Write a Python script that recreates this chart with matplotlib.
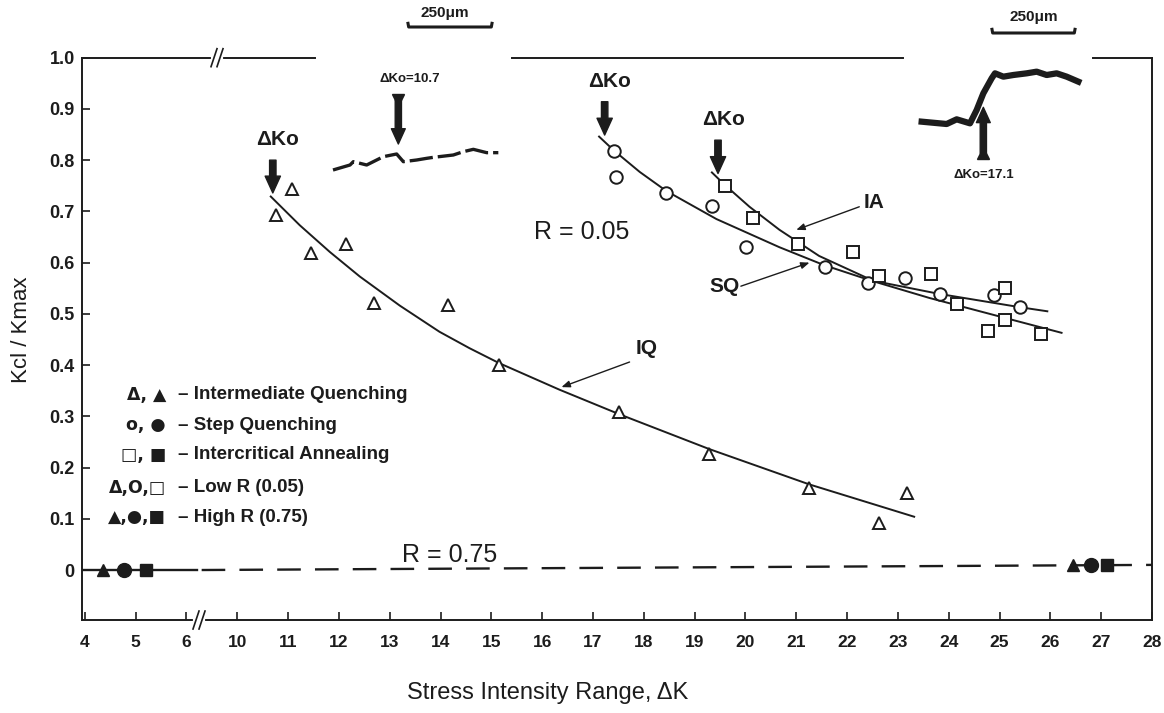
import numpy as np
import matplotlib
matplotlib.use("Agg")
import matplotlib.pyplot as plt

# ---- data (Kcl/Kmax vs stress intensity range) ----
# intermediate quenching, R = 0.05 (open triangles)
iq_x = [10.76, 11.08, 11.46, 12.14, 12.69, 14.15, 15.15, 17.51, 19.29, 21.26, 22.63, 23.18]
iq_y = [0.693, 0.743, 0.619, 0.636, 0.522, 0.517, 0.401, 0.309, 0.226, 0.160, 0.091, 0.151]
iq_fit_x = [10.66, 11.23, 11.82, 12.41, 13.20, 13.98, 14.57, 15.15, 16.34, 17.52, 19.29, 21.26, 23.32]
iq_fit_y = [0.729, 0.673, 0.621, 0.573, 0.516, 0.465, 0.433, 0.404, 0.352, 0.304, 0.236, 0.167, 0.104]

# step quenching, R = 0.05 (open circles)
sq_x = [17.41, 17.46, 18.44, 19.34, 20.01, 21.57, 22.42, 23.14, 23.83, 24.89, 25.40]
sq_y = [0.818, 0.767, 0.735, 0.711, 0.631, 0.591, 0.560, 0.569, 0.538, 0.537, 0.513]
sq_fit_x = [17.12, 17.41, 17.92, 18.44, 19.43, 20.67, 21.55, 22.44, 23.81, 25.40, 25.94]
sq_fit_y = [0.846, 0.819, 0.777, 0.740, 0.685, 0.630, 0.595, 0.566, 0.539, 0.513, 0.505]

# intercritical annealing, R = 0.05 (open squares)
ia_x = [19.59, 20.14, 21.03, 22.12, 22.63, 23.66, 24.17, 25.11, 25.11, 24.78, 25.81]
ia_y = [0.750, 0.688, 0.636, 0.621, 0.573, 0.578, 0.519, 0.550, 0.488, 0.467, 0.460]
ia_fit_x = [19.34, 19.59, 20.08, 20.67, 21.45, 22.57, 23.62, 25.11, 26.22]
ia_fit_y = [0.776, 0.752, 0.709, 0.664, 0.613, 0.562, 0.531, 0.492, 0.463]

# R = 0.75: closure level stays at zero (filled symbols)
hi_x = [4.36, 4.77, 5.20, 26.45, 26.79, 27.12]
hi_y = [0.0, 0.0, 0.0, 0.01, 0.01, 0.01]
hi_mark = ["^", "o", "s", "^", "o", "s"]
hi_line_x = [6.3, 28.0]
hi_line_y = [0.0, 0.01]

# threshold markers (dK_o) for each curve
dko_x = [10.7, 17.23, 19.46]
dko_top = [0.800, 0.914, 0.839]
dko_tip = [0.736, 0.849, 0.774]

xtick_vals = [4, 5, 6, 10, 11, 12, 13, 14, 15, 16, 17, 18, 19, 20, 21, 22, 23, 24, 25, 26, 27, 28]
ytick_vals = [0, 0.1, 0.2, 0.3, 0.4, 0.5, 0.6, 0.7, 0.8, 0.9, 1.0]
ytick_labels = ["0", "0.1", "0.2", "0.3", "0.4", "0.5", "0.6", "0.7", "0.8", "0.9", "1.0"]

legend_sym = ["Δ, ▲", "o, ●", "□, ■", "Δ,O,□", "▲,●,■"]
legend_txt = ["Intermediate Quenching", "Step Quenching", "Intercritical Annealing",
              "Low R (0.05)", "High R (0.75)"]

# crack profile micrographs (micrometres, 250 um scale bars)
crack_a_x = [39, 90, 100, 140, 190, 230, 250, 290, 320, 340, 400, 430, 460, 500, 535]
crack_a_y = [90, 105, 115, 105, 130, 138, 115, 120, 125, 128, 135, 145, 152, 142, 142]
crack_b_x = [65, 140, 170, 210, 230, 250, 275, 285, 310, 340, 380, 410, 440, 470, 500, 535]
crack_b_y = [235, 228, 242, 230, 270, 320, 365, 380, 370, 375, 380, 385, 375, 380, 370, 355]

ink = "#1c1c1c"
sans = ["Liberation Sans", "DejaVu Sans"]
plt.rcParams["font.family"] = sans


def brk(x):
    # broken axis: 6 -> 10 gap is squeezed out
    x = np.asarray(x, dtype=float)
    return np.where(x < 8, x, x - 3)


W, H = 1164, 713
fig = plt.figure(figsize=(W / 100, H / 100), dpi=100)
ax = fig.add_axes([0.0702, 0.1304, 0.9195, 0.7887])
ax.set_xlim(3.94, 25.0)
ax.set_ylim(-0.0976, 1.0)

# fitted curves
for fx_, fy_ in [(iq_fit_x, iq_fit_y), (sq_fit_x, sq_fit_y), (ia_fit_x, ia_fit_y)]:
    ax.plot(brk(fx_), fy_, color=ink, lw=1.4, zorder=2)

mk = dict(ls="none", mfc="white", mec=ink, mew=1.4, zorder=3)
ax.plot(brk(iq_x), iq_y, marker="^", ms=8.5, **mk)
ax.plot(brk(sq_x), sq_y, marker="o", ms=9, **mk)
ax.plot(brk(ia_x), ia_y, marker="s", ms=8.5, **mk)

# R = 0.75 line
ax.plot([3.94, 6.2], [0, 0], color=ink, lw=1.7, zorder=2)
ax.plot(brk(hi_line_x), hi_line_y, color=ink, lw=1.7, ls=(0, (10, 6)), zorder=2)
for x, y, m in zip(hi_x, hi_y, hi_mark):
    ax.plot(brk([x]), [y], marker=m, ms=9 if m != "o" else 10, color=ink, ls="none", zorder=3)

# dK_o arrows
for x, y0, y1 in zip(dko_x, dko_top, dko_tip):
    xb = float(brk([x])[0])
    ax.annotate("", xy=(xb, y1), xytext=(xb, y0),
                arrowprops=dict(arrowstyle="simple,head_length=1.1,head_width=1.0,tail_width=0.42",
                                mutation_scale=11, color=ink, shrinkA=0, shrinkB=0))
    ax.text(xb + 0.1, y0 + 0.04, "ΔKo", ha="center", va="center", fontsize=15,
            fontweight="bold", color=ink)

# curve labels
thin = dict(arrowstyle="-|>,head_length=0.5,head_width=0.2", lw=1.0, color=ink,
            shrinkA=0, shrinkB=0)
ax.annotate("", xy=(brk([16.38])[0], 0.357), xytext=(brk([17.72])[0], 0.406), arrowprops=thin)
ax.text(brk([18.05])[0], 0.432, "IQ", fontsize=15, fontweight="bold", ha="center", va="center", color=ink)
ax.annotate("", xy=(brk([21.0])[0], 0.664), xytext=(brk([22.24])[0], 0.709), arrowprops=thin)
ax.text(brk([22.33])[0], 0.718, "IA", fontsize=15, fontweight="bold", ha="left", va="center", color=ink)
ax.annotate("", xy=(brk([21.26])[0], 0.600), xytext=(brk([19.91])[0], 0.554), arrowprops=thin)
ax.text(brk([19.88])[0], 0.553, "SQ", fontsize=15, fontweight="bold", ha="right", va="center", color=ink)

ax.text(brk([16.77])[0], 0.660, "R = 0.05", fontsize=18, ha="center", va="center", color=ink)
ax.text(brk([14.17])[0], 0.029, "R = 0.75", fontsize=18, ha="center", va="center", color=ink)

# axes frame with gaps for the micrographs
ax.spines["top"].set_visible(False)
for s in ["left", "bottom", "right"]:
    ax.spines[s].set_linewidth(1.4)
    ax.spines[s].set_color(ink)
for a, b in [(0.0, 0.218), (0.402, 0.767), (0.945, 1.0)]:
    ax.plot([a, b], [1, 1], transform=ax.transAxes, color=ink, lw=1.4, clip_on=False)

# break marks "//" on top and bottom
axw, axh = 1070.3, 562.3
for xf, yf in [((199 - 81.7) / axw, 0.0), ((217 - 81.7) / axw, 1.0)]:
    ax.plot([xf - 4 / axw, xf + 4 / axw], [yf, yf], transform=ax.transAxes,
            color="white", lw=3, clip_on=False, zorder=5)
    for off in (-3, 3):
        x0 = xf + off / axw
        ax.plot([x0 - 3 / axw, x0 + 3 / axw], [yf - 9 / axh, yf + 9 / axh],
                transform=ax.transAxes, color=ink, lw=1.2, clip_on=False, zorder=6)

ax.set_xticks(brk(xtick_vals))
ax.set_xticklabels([str(v) for v in xtick_vals])
ax.set_yticks(ytick_vals)
ax.set_yticklabels(ytick_labels)
ax.tick_params(axis="x", direction="in", length=6, width=1.2, pad=11, labelsize=12.5, colors=ink)
ax.tick_params(axis="y", direction="in", length=6, width=1.2, pad=5, labelsize=13, colors=ink)
for lab in ax.get_xticklabels() + ax.get_yticklabels():
    lab.set_fontweight("bold")


def fx(px):
    return px / W


def fy(py):
    return 1 - py / H


fig.text(fx(548), fy(693), "Stress Intensity Range, ΔK", fontsize=17, ha="center", va="center", color=ink)
fig.text(fx(22), fy(330), "Kcl / Kmax", fontsize=16, rotation=90, ha="center", va="center", color=ink)

# legend written as text, like the original
for i, (sym, txt) in enumerate(zip(legend_sym, legend_txt)):
    py = [395, 425, 455, 488, 517][i]
    fig.text(fx(166), fy(py), sym, fontsize=12.5, fontweight="bold", ha="right", va="center",
             color=ink, family=["DejaVu Sans"])
    fig.text(fx(178), fy(py), "– " + txt, fontsize=13.5, fontweight="bold", ha="left", va="center", color=ink)

# micrograph insets
ins_a = fig.add_axes([fx(320), fy(200), 190 / W, 200 / H])
ins_a.set_xlim(0, 570)
ins_a.set_ylim(0, 600)
ins_a.axis("off")
ins_a.plot(crack_a_x, crack_a_y, color=ink, lw=2.4, ls=(0, (7, 1.5)))
ins_a.annotate("", xy=(235, 168), xytext=(235, 300),
               arrowprops=dict(arrowstyle="simple,head_length=1.1,head_width=1.0,tail_width=0.45",
                               mutation_scale=10, color=ink, shrinkA=0, shrinkB=0))
ins_a.plot([235], [300], marker="v", ms=9, color=ink)
ins_a.text(270, 363, "ΔKo=10.7", fontsize=9.5, fontweight="bold", ha="center", va="center", color=ink)
ins_a.plot([264, 266, 514, 516], [530, 519, 519, 530], color=ink, lw=2.2)
ins_a.text(375, 560, "250μm", fontsize=11, fontweight="bold", ha="center", va="center", color=ink)

ins_b = fig.add_axes([fx(900), fy(200), 200 / W, 200 / H])
ins_b.set_xlim(0, 600)
ins_b.set_ylim(0, 600)
ins_b.axis("off")
ins_b.plot(crack_b_x, crack_b_y, color=ink, lw=4.5, solid_joinstyle="round")
ins_b.annotate("", xy=(250, 278), xytext=(250, 140),
               arrowprops=dict(arrowstyle="simple,head_length=1.1,head_width=1.0,tail_width=0.45",
                               mutation_scale=10, color=ink, shrinkA=0, shrinkB=0))
ins_b.plot([250], [140], marker="^", ms=9, color=ink)
ins_b.text(250, 75, "ΔKo=17.1", fontsize=9.5, fontweight="bold", ha="center", va="center", color=ink)
ins_b.plot([276, 278, 523, 525], [512, 501, 501, 512], color=ink, lw=2.2)
ins_b.text(400, 550, "250μm", fontsize=11, fontweight="bold", ha="center", va="center", color=ink)

fig.savefig("out.png", dpi=100, facecolor="white")
